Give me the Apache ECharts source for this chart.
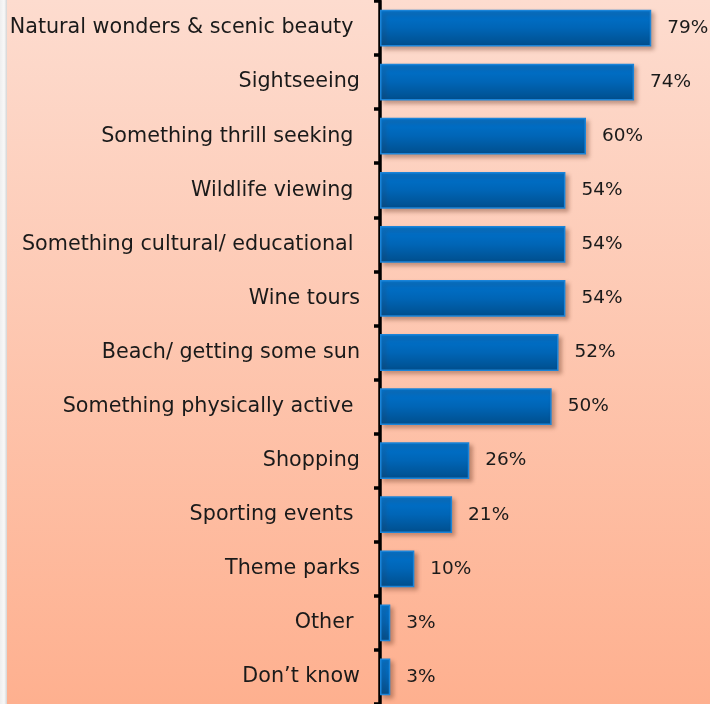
<!DOCTYPE html>
<html>
<head>
<meta charset="utf-8">
<script src="https://cdn.jsdelivr.net/npm/echarts@6/dist/echarts.min.js"></script>
<style>
html,body{margin:0;padding:0;width:710px;height:704px;overflow:hidden;}
#c{width:710px;height:704px;}
</style>
</head>
<body>
<div id="c"></div>
<script>
const categories = [
  "Natural wonders & scenic beauty ",
  "Sightseeing",
  "Something thrill seeking ",
  "Wildlife viewing ",
  "Something cultural/ educational ",
  "Wine tours",
  "Beach/ getting some sun",
  "Something physically active ",
  "Shopping",
  "Sporting events ",
  "Theme parks",
  "Other ",
  "Don\u2019t know"
];
const values = [79, 74, 60, 54, 54, 54, 52, 50, 26, 21, 10, 3, 3];

const chart = echarts.init(document.getElementById('c'));
chart.setOption({
  animation: false,
  backgroundColor: {
    type: 'linear', x: 0, y: 0, x2: 0, y2: 1,
    colorStops: [{offset: 0, color: '#fddccf'}, {offset: 1, color: '#feb08f'}]
  },
  graphic: [{
    type: 'rect', left: 0, top: 0, z: 100,
    shape: {width: 7, height: 704},
    style: {fill: {type: 'linear', x: 0, y: 0, x2: 1, y2: 0,
      colorStops: [{offset: 0, color: '#eeeeee'}, {offset: 0.6, color: '#f8f8f8'}, {offset: 1, color: '#d4d4d4'}]}}
  }],
  grid: {left: 380, top: 1, right: 21, bottom: -3, containLabel: false},
  xAxis: {
    type: 'value', min: 0, max: 90, show: false
  },
  yAxis: {
    type: 'category', data: categories, inverse: true,
    axisLine: {show: true, lineStyle: {color: '#000', width: 3.5}},
    axisTick: {show: true, length: 6, lineStyle: {color: '#000', width: 3.5}},
    axisLabel: {color: '#1a1a1a', fontSize: 20.7, fontFamily: 'DejaVu Sans', margin: 20}
  },
  series: [{
    type: 'bar', data: values, barWidth: '68%',
    itemStyle: {
      color: {type: 'linear', x: 0, y: 0, x2: 0, y2: 1,
        colorStops: [{offset: 0, color: '#0074cf'}, {offset: 0.5, color: '#0065b6'}, {offset: 1, color: '#004e8c'}]},
      borderColor: '#1b84d8', borderWidth: 1.5,
      shadowColor: 'rgba(90,40,20,0.35)', shadowBlur: 4, shadowOffsetX: 3, shadowOffsetY: 3
    },
    label: {show: true, position: 'right', distance: 16, formatter: '{c}%',
      color: '#1a1a1a', fontSize: 18.5, fontFamily: 'DejaVu Sans'}
  }]
});
</script>
</body>
</html>
